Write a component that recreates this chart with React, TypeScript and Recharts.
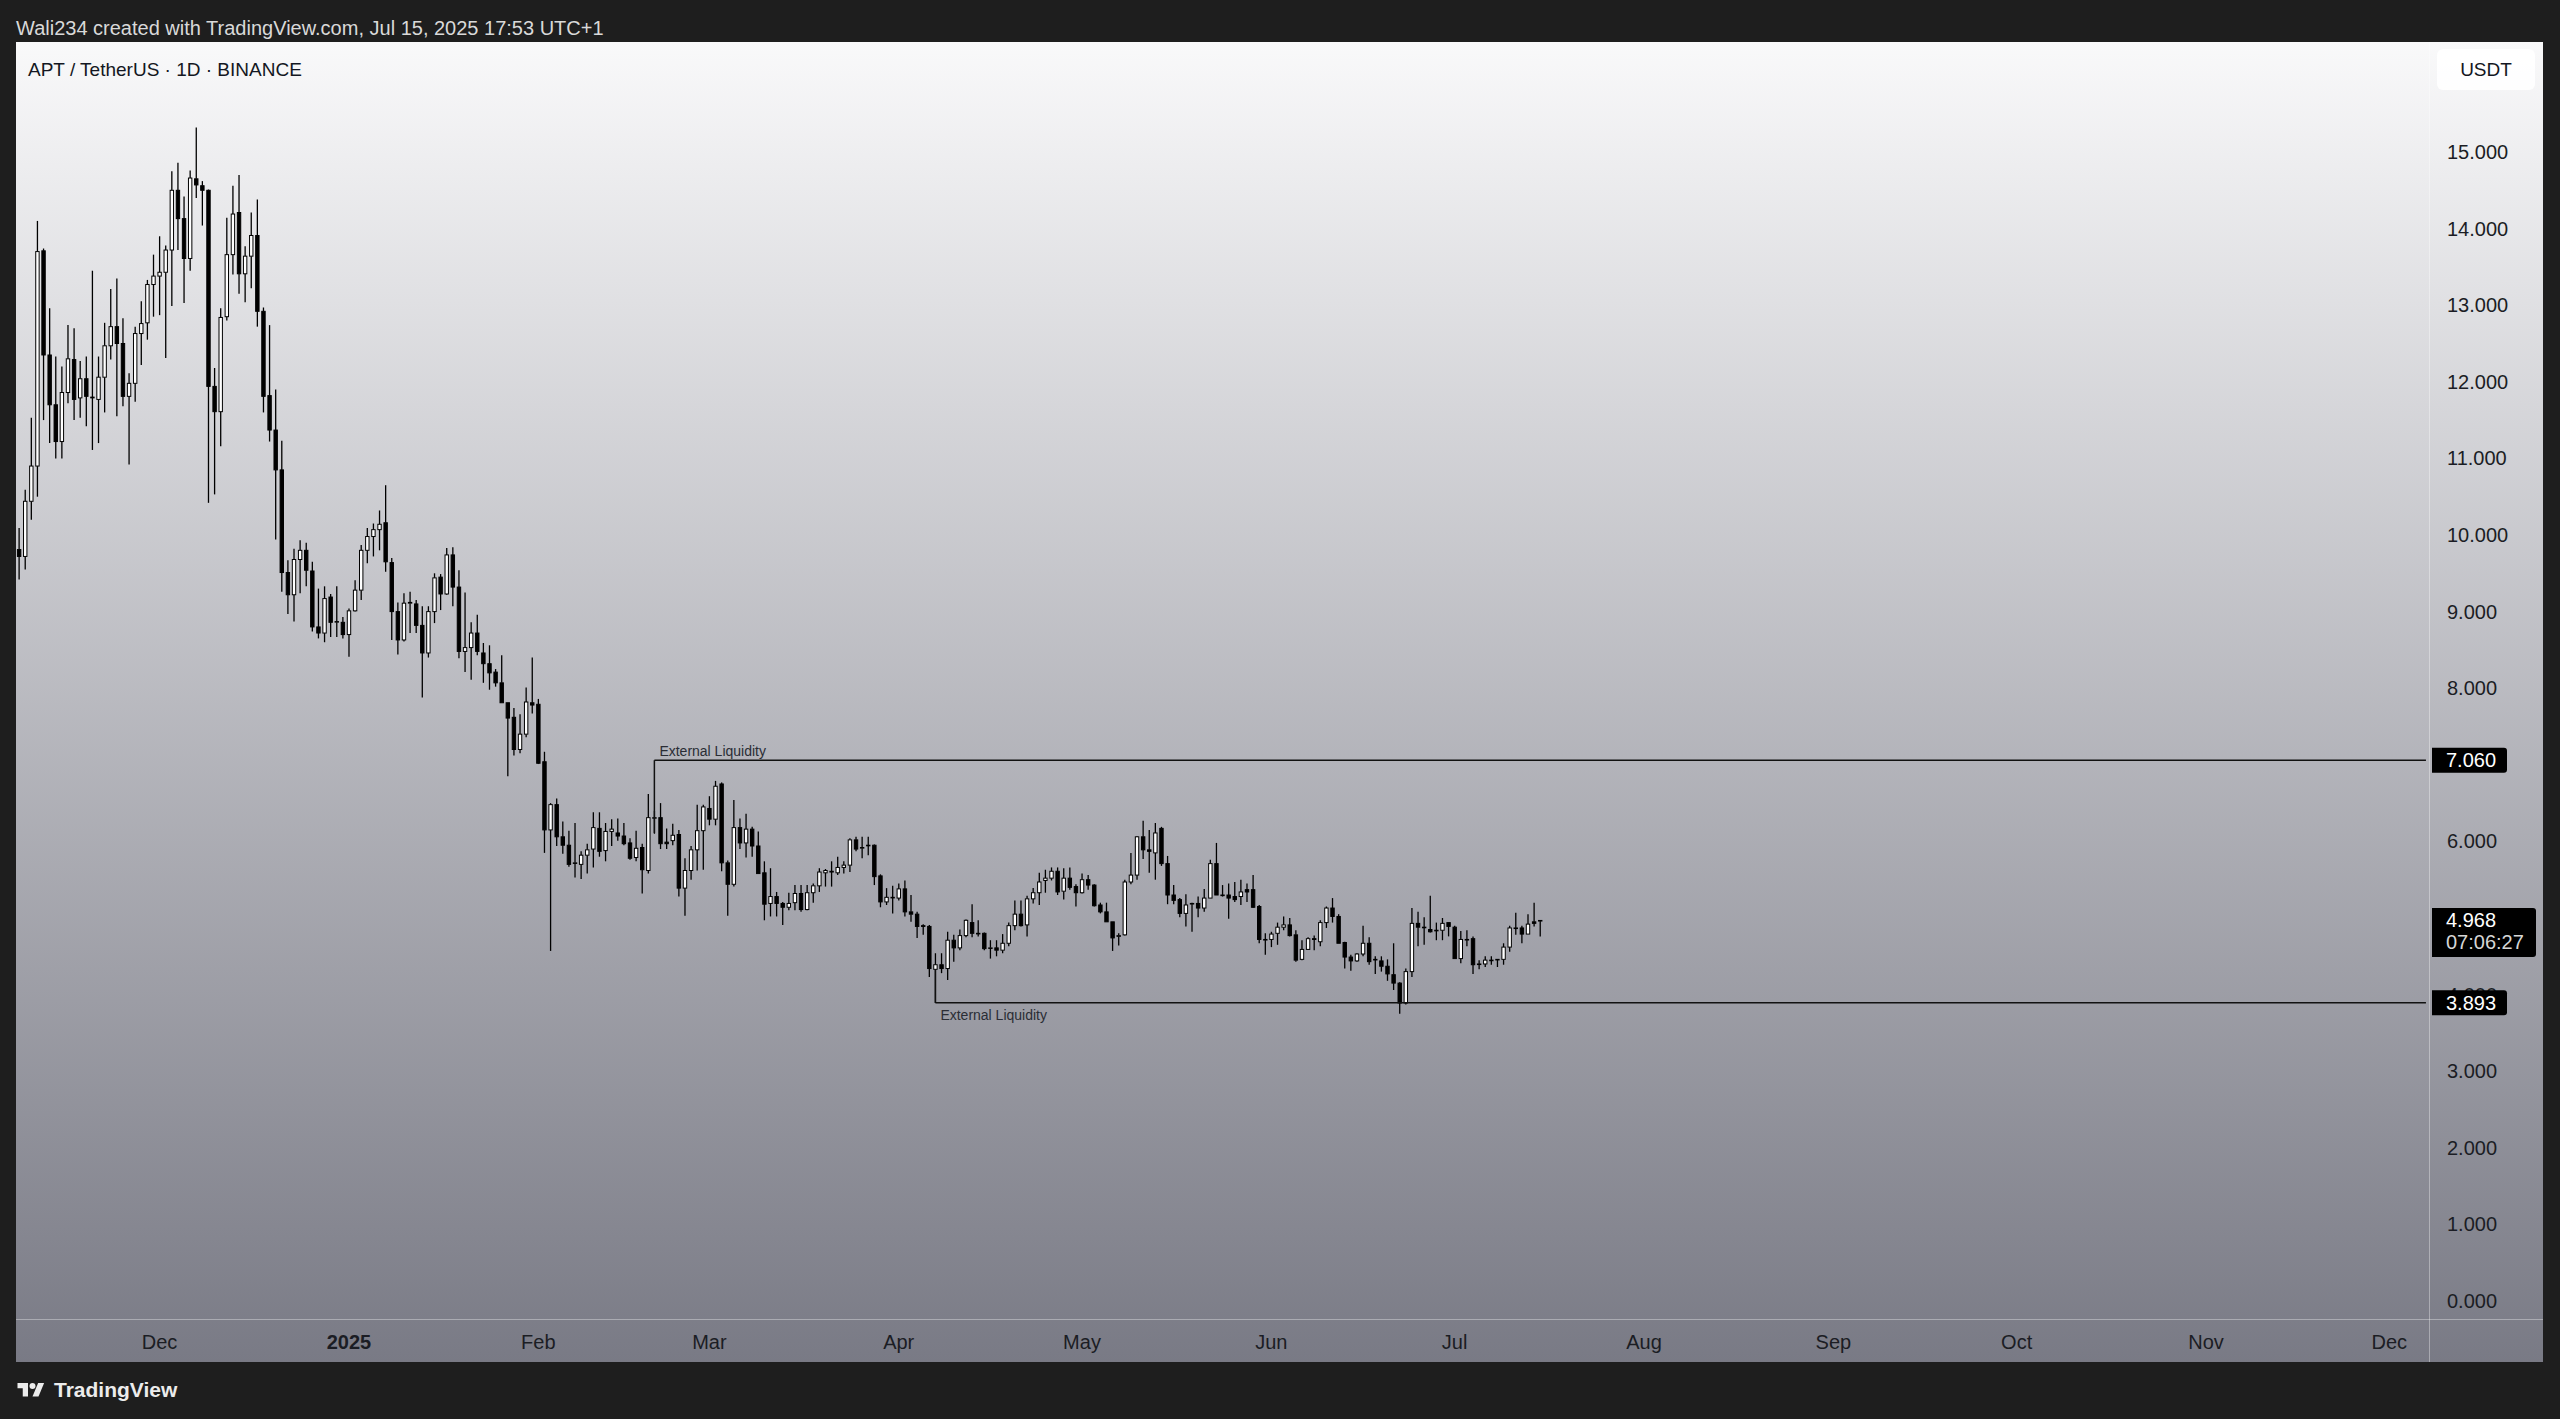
import React from 'react';
import { ComposedChart, Bar, XAxis, YAxis, ReferenceLine } from 'recharts';

// APT/USDT daily candles, [open, high, low, close], one list per month
const nov2024 = [
  [9.81, 10.09, 9.42, 9.72], [9.72, 10.59, 9.55, 10.44], [10.44, 11.53, 10.2, 10.9], [10.9, 14.1, 10.5, 13.7],
  [13.71, 13.74, 11.5, 12.35], [12.35, 12.96, 11.2, 11.7], [11.7, 12.33, 11.0, 11.22], [11.22, 12.2, 11.0, 11.86],
  [11.86, 12.74, 11.72, 12.3], [12.29, 12.7, 11.5, 11.77], [11.79, 12.27, 11.53, 12.04], [12.04, 12.33, 11.42, 11.81],
  [11.8, 13.45, 11.11, 11.79], [11.77, 12.33, 11.2, 12.06], [12.06, 12.77, 11.6, 12.47], [12.47, 13.21, 12.29, 12.72],
  [12.72, 13.35, 11.55, 12.5], [12.5, 12.83, 11.68, 11.81], [11.81, 12.11, 10.92, 11.98], [11.98, 12.72, 11.74, 12.63],
  [12.63, 13.05, 12.22, 12.76], [12.77, 13.33, 12.55, 13.27], [13.27, 13.66, 12.85, 13.38],
];
const dec2024 = [
  [13.38, 13.9, 12.87, 13.43], [13.43, 13.78, 12.31, 13.72], [13.72, 14.75, 12.99, 14.5], [14.5, 14.86, 13.72, 14.13],
  [14.13, 14.42, 13.03, 13.61], [13.61, 14.76, 13.45, 14.66], [14.65, 15.32, 14.4, 14.57], [14.56, 14.62, 14.04, 14.5],
  [14.5, 14.51, 10.42, 11.94], [11.94, 12.18, 10.53, 11.61], [11.61, 12.96, 11.16, 12.84], [12.85, 14.14, 12.8, 13.66],
  [13.66, 14.56, 13.4, 14.19], [14.21, 14.7, 13.15, 13.41], [13.41, 13.77, 13.04, 13.64], [13.64, 14.21, 13.22, 13.91],
  [13.91, 14.38, 12.72, 12.92], [12.92, 12.97, 11.6, 11.81], [11.82, 12.74, 11.22, 11.37], [11.37, 11.9, 9.94, 10.85],
  [10.85, 11.23, 9.26, 9.51], [9.51, 9.67, 8.97, 9.22], [9.22, 9.82, 8.87, 9.68], [9.68, 9.93, 9.24, 9.8],
  [9.8, 9.9, 9.33, 9.54], [9.53, 9.65, 8.74, 8.8], [8.8, 9.3, 8.65, 8.72], [8.72, 9.33, 8.6, 9.17],
  [9.19, 9.23, 8.67, 8.86], [8.87, 9.33, 8.67, 8.87], [8.86, 8.93, 8.65, 8.7],
];
const jan2025 = [
  [8.7, 9.04, 8.41, 9.01], [9.01, 9.41, 9.0, 9.28], [9.28, 9.87, 9.15, 9.8], [9.8, 10.09, 9.63, 9.98],
  [9.98, 10.15, 9.72, 10.07], [10.07, 10.32, 9.8, 10.14], [10.16, 10.65, 9.52, 9.65], [9.64, 9.7, 8.63, 9.0],
  [9.0, 9.12, 8.44, 8.63], [8.63, 9.24, 8.61, 9.11], [9.11, 9.26, 8.72, 9.12], [9.1, 9.15, 8.72, 8.82],
  [8.82, 9.07, 7.88, 8.46], [8.46, 9.07, 8.4, 9.0], [9.0, 9.5, 8.85, 9.44], [9.45, 9.49, 9.02, 9.23],
  [9.23, 9.83, 9.22, 9.74], [9.74, 9.84, 9.07, 9.32], [9.32, 9.54, 8.39, 8.48], [8.48, 9.25, 8.21, 8.53],
  [8.53, 8.86, 8.11, 8.72], [8.72, 8.96, 8.43, 8.48], [8.46, 8.59, 8.07, 8.32], [8.32, 8.56, 7.98, 8.2],
  [8.21, 8.25, 8.02, 8.07], [8.07, 8.43, 7.81, 7.81], [7.81, 7.81, 6.85, 7.61], [7.62, 7.74, 7.12, 7.2],
  [7.2, 7.66, 7.15, 7.4], [7.4, 8.01, 7.36, 7.82], [7.81, 8.4, 7.67, 7.78],
];
const feb2025 = [
  [7.79, 7.86, 7.01, 7.02], [7.04, 7.17, 5.85, 6.15], [6.15, 6.5, 4.57, 6.48], [6.48, 6.56, 5.94, 6.06],
  [6.06, 6.26, 5.84, 5.95], [5.95, 6.14, 5.67, 5.7], [5.72, 6.24, 5.53, 5.72], [5.7, 5.87, 5.51, 5.82],
  [5.82, 5.97, 5.58, 5.89], [5.9, 6.38, 5.66, 6.18], [6.17, 6.38, 5.8, 5.87], [5.88, 6.24, 5.74, 6.13],
  [6.13, 6.29, 5.94, 6.16], [6.11, 6.3, 6.01, 6.07], [6.07, 6.24, 5.95, 5.97], [5.98, 6.04, 5.76, 5.78],
  [5.79, 6.14, 5.74, 5.91], [5.92, 5.97, 5.32, 5.63], [5.62, 6.62, 5.58, 6.31], [6.31, 6.4, 6.1, 6.31],
  [6.31, 6.5, 5.9, 5.97], [5.99, 6.17, 5.9, 5.97], [6.01, 6.23, 5.95, 6.08], [6.09, 6.15, 5.28, 5.39],
  [5.39, 5.78, 5.03, 5.62], [5.62, 5.94, 5.5, 5.89], [5.89, 6.48, 5.62, 6.14], [6.14, 6.48, 5.63, 6.45],
];
const mar2025 = [
  [6.43, 6.59, 6.21, 6.29], [6.29, 6.79, 6.21, 6.72], [6.75, 6.77, 5.61, 5.72], [5.72, 5.75, 5.03, 5.44],
  [5.44, 6.54, 5.41, 6.18], [6.18, 6.3, 5.9, 5.98], [5.98, 6.36, 5.79, 6.16], [6.16, 6.19, 5.8, 5.94],
  [5.94, 6.13, 5.58, 5.58], [5.59, 5.74, 4.97, 5.18], [5.19, 5.65, 5.02, 5.28], [5.28, 5.34, 5.02, 5.19],
  [5.19, 5.21, 4.91, 5.14], [5.14, 5.33, 5.1, 5.19], [5.2, 5.43, 5.1, 5.32], [5.32, 5.43, 5.08, 5.11],
  [5.11, 5.43, 5.1, 5.33], [5.33, 5.45, 5.2, 5.42], [5.42, 5.65, 5.34, 5.6], [5.59, 5.64, 5.41, 5.62],
  [5.61, 5.74, 5.41, 5.6], [5.59, 5.8, 5.56, 5.66], [5.66, 5.74, 5.58, 5.69], [5.69, 6.04, 5.6, 6.02],
  [6.02, 6.06, 5.87, 5.9], [5.92, 6.06, 5.78, 5.92], [5.95, 6.06, 5.82, 5.95], [5.95, 5.96, 5.43, 5.54],
  [5.55, 5.57, 5.14, 5.21], [5.21, 5.39, 5.17, 5.27], [5.27, 5.42, 5.06, 5.27],
];
const apr2025 = [
  [5.26, 5.45, 5.23, 5.38], [5.38, 5.49, 5.02, 5.08], [5.08, 5.3, 4.95, 5.05], [5.05, 5.08, 4.74, 4.89],
  [4.9, 4.92, 4.78, 4.89], [4.89, 4.91, 4.23, 4.34], [4.33, 4.54, 3.89, 4.39], [4.39, 4.54, 4.28, 4.34],
  [4.34, 4.82, 4.19, 4.71], [4.71, 4.78, 4.43, 4.61], [4.61, 4.85, 4.58, 4.77], [4.77, 4.98, 4.75, 4.97],
  [4.94, 5.18, 4.75, 4.8], [4.8, 4.97, 4.76, 4.8], [4.8, 4.81, 4.58, 4.6], [4.61, 4.71, 4.47, 4.61],
  [4.61, 4.71, 4.5, 4.58], [4.58, 4.79, 4.54, 4.67], [4.67, 4.94, 4.63, 4.9], [4.9, 5.23, 4.84, 5.05],
  [5.05, 5.23, 4.89, 4.9], [4.91, 5.29, 4.76, 5.25], [5.25, 5.39, 5.19, 5.33], [5.33, 5.59, 5.17, 5.47],
  [5.49, 5.63, 5.33, 5.52], [5.52, 5.66, 5.49, 5.61], [5.61, 5.66, 5.3, 5.34], [5.35, 5.65, 5.24, 5.52],
  [5.52, 5.66, 5.37, 5.4], [5.41, 5.44, 5.15, 5.33],
];
const may2025 = [
  [5.33, 5.58, 5.32, 5.5], [5.5, 5.56, 5.37, 5.43], [5.43, 5.44, 5.15, 5.16], [5.17, 5.2, 5.06, 5.08],
  [5.08, 5.2, 4.95, 4.95], [4.95, 4.95, 4.57, 4.74], [4.76, 4.8, 4.64, 4.77], [4.78, 5.5, 4.77, 5.47],
  [5.47, 5.85, 5.44, 5.56], [5.56, 6.07, 5.5, 6.06], [6.06, 6.27, 5.77, 5.89], [5.89, 6.15, 5.59, 5.87],
  [5.85, 6.24, 5.5, 6.11], [6.17, 6.19, 5.68, 5.71], [5.71, 5.81, 5.18, 5.3], [5.3, 5.43, 5.18, 5.23],
  [5.24, 5.26, 5.01, 5.06], [5.06, 5.31, 4.89, 5.17], [5.19, 5.2, 4.82, 5.19], [5.19, 5.28, 5.01, 5.13],
  [5.13, 5.38, 5.08, 5.26], [5.26, 5.76, 5.26, 5.71], [5.71, 5.98, 5.3, 5.3], [5.3, 5.43, 5.28, 5.3],
  [5.3, 5.45, 4.99, 5.26], [5.28, 5.47, 5.21, 5.24], [5.28, 5.5, 5.17, 5.34], [5.37, 5.45, 5.21, 5.34],
  [5.37, 5.56, 5.13, 5.14], [5.15, 5.17, 4.67, 4.72], [4.72, 4.8, 4.52, 4.72],
];
const jun2025 = [
  [4.72, 4.82, 4.62, 4.79], [4.8, 4.94, 4.65, 4.88], [4.88, 5.02, 4.84, 4.91], [4.91, 5.0, 4.76, 4.77],
  [4.78, 4.84, 4.43, 4.45], [4.46, 4.71, 4.45, 4.59], [4.59, 4.75, 4.59, 4.73], [4.73, 4.77, 4.58, 4.72],
  [4.69, 4.97, 4.63, 4.94], [4.94, 5.15, 4.87, 5.13], [5.13, 5.26, 4.94, 5.02], [5.02, 5.05, 4.67, 4.67],
  [4.68, 4.69, 4.34, 4.49], [4.49, 4.52, 4.31, 4.44], [4.44, 4.54, 4.43, 4.53], [4.53, 4.9, 4.5, 4.67],
  [4.67, 4.75, 4.39, 4.43], [4.46, 4.5, 4.27, 4.46], [4.44, 4.5, 4.3, 4.37], [4.37, 4.46, 4.18, 4.27],
  [4.26, 4.67, 4.06, 4.15], [4.15, 4.16, 3.75, 3.89], [3.89, 4.34, 3.87, 4.3], [4.3, 5.13, 4.23, 4.93],
  [4.93, 5.08, 4.63, 4.88], [4.88, 5.01, 4.65, 4.88], [4.85, 5.29, 4.81, 4.82], [4.84, 4.94, 4.71, 4.84],
  [4.84, 5.0, 4.71, 4.93], [4.94, 4.94, 4.76, 4.89],
];
const jul2025 = [
  [4.88, 4.9, 4.47, 4.47], [4.47, 4.83, 4.41, 4.72], [4.72, 4.84, 4.63, 4.72], [4.73, 4.76, 4.27, 4.39],
  [4.4, 4.45, 4.33, 4.4], [4.4, 4.5, 4.36, 4.45], [4.45, 4.5, 4.39, 4.45], [4.46, 4.46, 4.36, 4.46],
  [4.46, 4.67, 4.39, 4.62], [4.62, 4.9, 4.56, 4.87], [4.87, 5.07, 4.78, 4.87], [4.87, 4.9, 4.67, 4.79],
  [4.79, 5.05, 4.79, 4.92], [4.95, 5.2, 4.89, 4.93], [4.96, 4.97, 4.76, 4.968],
];

const monthTicks = [
  '2024-12-01', '2025-01-01', '2025-02-01', '2025-03-01', '2025-04-01', '2025-05-01',
  '2025-06-01', '2025-07-01', '2025-08-01', '2025-09-01', '2025-10-01', '2025-11-01', '2025-12-01',
];
const monthLabels = ['Dec', '2025', 'Feb', 'Mar', 'Apr', 'May', 'Jun', 'Jul', 'Aug', 'Sep', 'Oct', 'Nov', 'Dec'];
const priceTicks = [0, 1, 2, 3, 4, 5, 6, 7, 8, 9, 10, 11, 12, 13, 14, 15];

const liquidityHigh = { from: '2025-02-20', price: 7.06, anchor: 6.11 };
const liquidityLow = { from: '2025-04-07', price: 3.893, anchor: 4.33 };
const lastPrice = 4.968;
const countdown = '07:06:27';

const FONT = '"Liberation Sans", Arial, sans-serif';
const START = Date.UTC(2024, 10, 8);
const DAYS = 395; // visible range runs to early Dec 2025
const W = 2527;
const H = 1320;
const PRICE_DOMAIN = [-0.235, 16.436];

const candles = [...nov2024, ...dec2024, ...jan2025, ...feb2025, ...mar2025, ...apr2025, ...may2025, ...jun2025, ...jul2025];
const dayKey = (i: number) => new Date(START + i * 86400000).toISOString().slice(0, 10);
const lastKey = dayKey(DAYS - 1);

const chartData = Array.from({ length: DAYS }, (_, i) => {
  const c = candles[i];
  if (!c) return { date: dayKey(i) };
  return { date: dayKey(i), open: c[0], high: c[1], low: c[2], close: c[3], range: [c[2], c[1]] };
});

const Candle = (props: any) => {
  const { x, y, width, height, payload } = props;
  if (!payload || payload.open == null) return null;
  const { open, high, low, close } = payload;
  const top = Math.min(y, y + height);
  const span = Math.abs(height);
  const toY = (v: number) => top + ((high - v) / (high - low)) * span;
  const cx = x + width / 2;
  const up = close >= open;
  const bTop = toY(Math.max(open, close));
  const bBot = toY(Math.min(open, close));
  return (
    <g>
      <line x1={cx} x2={cx} y1={top} y2={bTop} stroke="#000" strokeWidth={1.3} />
      <line x1={cx} x2={cx} y1={bBot} y2={top + span} stroke="#000" strokeWidth={1.3} />
      <rect
        x={cx - 1.7}
        y={bTop}
        width={3.4}
        height={Math.max(bBot - bTop, 0.6)}
        fill={up ? '#fff' : '#000'}
        stroke="#000"
        strokeWidth={1}
      />
    </g>
  );
};

const TimeTick = (props: any) => {
  const { x, y, payload } = props;
  const label = monthLabels[monthTicks.indexOf(payload.value)];
  return (
    <text
      x={x}
      y={y + 23}
      textAnchor="middle"
      dominantBaseline="central"
      fontSize={20}
      fontFamily={FONT}
      fontWeight={label === '2025' ? 700 : 400}
      fill="#1b1d24"
    >
      {label}
    </text>
  );
};

// black price tag on the price scale, square on the left, rounded on the right
const PriceTag = (props: any) => {
  const { viewBox, text, sub } = props;
  const x = viewBox.x + viewBox.width + 3;
  const y = viewBox.y;
  const h = sub ? 49 : 25;
  const w = sub ? 104 : 75;
  const t = y - 12.5;
  const r = 3;
  const d = `M${x},${t} H${x + w - r} Q${x + w},${t} ${x + w},${t + r} V${t + h - r} Q${x + w},${t + h} ${x + w - r},${t + h} H${x} Z`;
  return (
    <g>
      <path d={d} fill="#000" />
      <text x={x + 14} y={y} dominantBaseline="central" fontSize={20} fontFamily={FONT} fill="#fff">
        {text}
      </text>
      {sub && (
        <text x={x + 14} y={y + 22} dominantBaseline="central" fontSize={20} fontFamily={FONT} fill="#d6d6d6">
          {sub}
        </text>
      )}
    </g>
  );
};

const LiqLabel = (props: any) => {
  const { viewBox, below } = props;
  return (
    <text
      x={viewBox.x + 5}
      y={viewBox.y + (below ? 12 : -9)}
      dominantBaseline="central"
      fontSize={14}
      fontFamily={FONT}
      fill="#2a2d35"
    >
      External Liquidity
    </text>
  );
};

const App: React.FC = () => {
  return (
    <div style={{ position: 'absolute', left: 0, top: 0, width: 2560, height: 1419, background: '#1e1e1e', fontFamily: FONT }}>
      <div style={{ position: 'absolute', left: 16, top: 17, fontSize: 20, lineHeight: '22px', color: '#d9d9d9' }}>
        Wali234 created with TradingView.com, Jul 15, 2025 17:53 UTC+1
      </div>

      <div
        style={{
          position: 'absolute',
          left: 16,
          top: 42,
          width: W,
          height: H,
          background: 'linear-gradient(to bottom, #f9f9fa 0%, #797a85 100%)',
          overflow: 'hidden',
        }}
      >
        <div style={{ position: 'absolute', left: W - 114, top: 0, width: 1, height: H, background: 'rgba(255,255,255,0.35)' }} />
        <div style={{ position: 'absolute', left: 0, top: H - 43, width: W, height: 1, background: 'rgba(255,255,255,0.35)' }} />

        <div style={{ position: 'absolute', left: 0, top: 0 }}>
          <ComposedChart width={W} height={H} data={chartData} margin={{ top: 0, right: 0, bottom: 0, left: 0 }}>
            <XAxis
              dataKey="date"
              type="category"
              ticks={monthTicks}
              interval={0}
              height={43}
              axisLine={false}
              tickLine={false}
              tickSize={0}
              tickMargin={0}
              tick={<TimeTick />}
            />
            <YAxis
              orientation="right"
              type="number"
              width={114}
              domain={PRICE_DOMAIN}
              ticks={priceTicks}
              allowDataOverflow
              axisLine={false}
              tickLine={false}
              tickSize={0}
              tickMargin={18}
              tickFormatter={(v: number) => v.toFixed(3)}
              tick={{ fontSize: 20, fill: '#1b1d24', fontFamily: FONT }}
            />
            <Bar dataKey="range" shape={<Candle />} isAnimationActive={false} />
            <ReferenceLine
              segment={[{ x: liquidityHigh.from, y: liquidityHigh.price }, { x: lastKey, y: liquidityHigh.price }]}
              stroke="#111"
              strokeWidth={1.5}
              label={<LiqLabel />}
            />
            <ReferenceLine
              segment={[{ x: liquidityHigh.from, y: liquidityHigh.price }, { x: liquidityHigh.from, y: liquidityHigh.anchor }]}
              stroke="#111"
              strokeWidth={1.5}
            />
            <ReferenceLine
              segment={[{ x: liquidityLow.from, y: liquidityLow.price }, { x: lastKey, y: liquidityLow.price }]}
              stroke="#111"
              strokeWidth={1.5}
              label={<LiqLabel below />}
            />
            <ReferenceLine
              segment={[{ x: liquidityLow.from, y: liquidityLow.anchor }, { x: liquidityLow.from, y: liquidityLow.price }]}
              stroke="#111"
              strokeWidth={1.5}
            />
          </ComposedChart>
        </div>

        {/* same scales again on top, so the price tags cover the scale labels */}
        <div style={{ position: 'absolute', left: 0, top: 0 }}>
          <ComposedChart width={W} height={H} data={chartData} margin={{ top: 0, right: 0, bottom: 0, left: 0 }}>
            <XAxis dataKey="date" type="category" height={43} axisLine={false} tickLine={false} tick={false} />
            <YAxis
              orientation="right"
              type="number"
              width={114}
              domain={PRICE_DOMAIN}
              allowDataOverflow
              axisLine={false}
              tickLine={false}
              tick={false}
            />
            <ReferenceLine y={liquidityHigh.price} stroke="none" label={<PriceTag text="7.060" />} />
            <ReferenceLine y={liquidityLow.price} stroke="none" label={<PriceTag text="3.893" />} />
            <ReferenceLine y={lastPrice} stroke="none" label={<PriceTag text={lastPrice.toFixed(3)} sub={countdown} />} />
          </ComposedChart>
        </div>

        <div style={{ position: 'absolute', left: 12, top: 17, fontSize: 19, lineHeight: '22px', color: '#131722' }}>
          APT / TetherUS · 1D · BINANCE
        </div>
        <div
          style={{
            position: 'absolute',
            left: 2421,
            top: 7,
            width: 98,
            height: 41,
            borderRadius: 6,
            background: 'rgba(255,255,255,0.9)',
            fontSize: 19,
            lineHeight: '41px',
            textAlign: 'center',
            color: '#131722',
          }}
        >
          USDT
        </div>
      </div>

      <div style={{ position: 'absolute', left: 16, top: 1379, display: 'flex', alignItems: 'center', gap: 8 }}>
        <svg width={30} height={21} viewBox="0 0 36 28">
          <path d="M14 22H7V11H0V4h14v18z" fill="#ececec" />
          <circle cx={20} cy={8} r={4} fill="#ececec" />
          <path d="M28 22h-8l7.5-18h8L28 22z" fill="#ececec" />
        </svg>
        <span style={{ fontSize: 21, fontWeight: 600, color: '#ececec', lineHeight: '22px' }}>TradingView</span>
      </div>
    </div>
  );
};

export default App;
